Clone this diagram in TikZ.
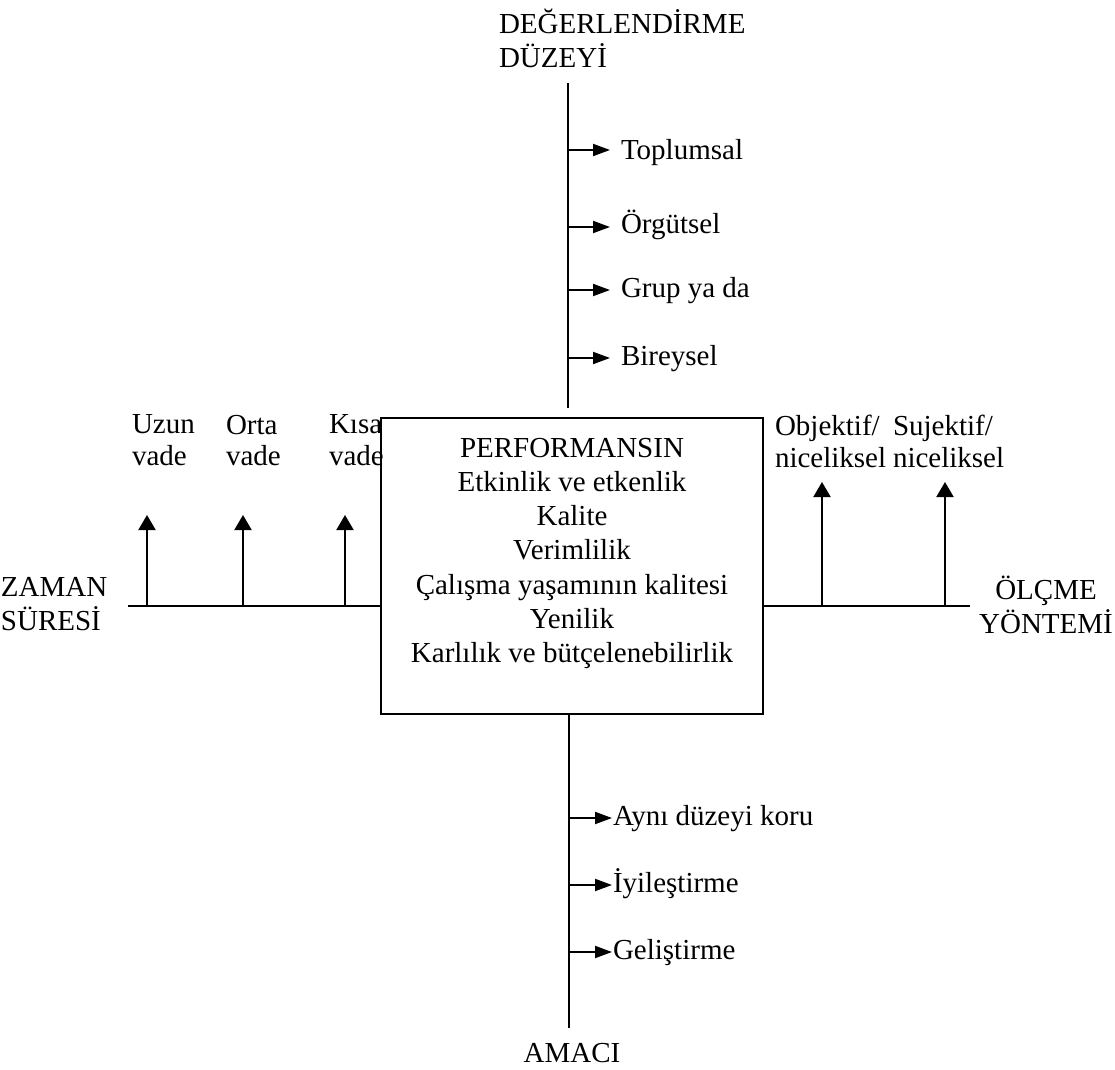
\documentclass[tikz,border=0pt]{standalone}
\usepackage{fontspec}
\setmainfont{Liberation Serif}
\usetikzlibrary{arrows.meta}
\usetikzlibrary{positioning}

\tikzset{
  harr/.style={-{Triangle[length=8.5pt,width=6pt]}},
  varr/.style={-{Triangle[length=7.5pt,width=8.5pt]}},
  itemlbl/.style={anchor=west,inner ysep=0pt,inner xsep=0pt,text height=7pt,text depth=0pt},
  headlbl/.style={anchor=north west,align=left,inner sep=0pt,font=\fontsize{14.5}{15.8}\selectfont},
  axislbl/.style={inner sep=0pt,font=\fontsize{14.5}{17}\selectfont},
  perfbox/.style={draw,minimum width=191pt,minimum height=148pt,inner sep=0pt}
}

\begin{document}
\begin{tikzpicture}[x=0.5pt,y=-0.5pt,line width=1pt,font=\fontsize{14.5}{17}\selectfont]
        \useasboundingbox (0,0) rectangle (1115,1070);
        %
        \node[perfbox] (perf) at (572,566) {};
        \node[anchor=north,align=center,inner sep=0pt,font=\fontsize{14.5}{17.1}\selectfont] (perftext) at (572,437)
        {PERFORMANSIN\\Etkinlik ve etkenlik\\Kalite\\Verimlilik\\Çalışma yaşamının kalitesi\\Yenilik\\Karlılık ve bütçelenebilirlik};
        %
        % degerlendirme duzeyi
        \node[axislbl,anchor=north west,align=left] (deger) at (498,8) {DEĞERLENDİRME\\DÜZEYİ};
        \coordinate (dtop) at (568,83);
        \coordinate (dbot) at (568,408);
        \draw (dtop) -- (dbot);
        \node[itemlbl,inner xsep=5pt,text height=10pt] (toplumsal) at (610,150) {Toplumsal};
        \node[itemlbl,inner xsep=5pt] (orgutsel) at (610,227) {Örgütsel};
        \node[itemlbl,inner xsep=5pt] (grup) at (610,290) {Grup ya da};
        \node[itemlbl,inner xsep=5pt] (bireysel) at (610,358) {Bireysel};
        \draw[harr] (toplumsal.west -| dtop) -- (toplumsal.west);
        \draw[harr] (orgutsel.west -| dtop) -- (orgutsel.west);
        \draw[harr] (grup.west -| dtop) -- (grup.west);
        \draw[harr] (bireysel.west -| dtop) -- (bireysel.west);
        %
        % amaci
        \coordinate (abot) at (569,1028);
        \draw (abot |- perf.south) -- (abot);
        \node[axislbl,anchor=base] (amaci) at (572,1062) {AMACI};
        \node[itemlbl] (ayni) at (612,818) {Aynı düzeyi koru};
        \node[itemlbl] (iyi) at (612,885) {İyileştirme};
        \node[itemlbl] (gelis) at (612,952) {Geliştirme};
        \draw[harr] (ayni.west -| abot) -- (ayni.west);
        \draw[harr] (iyi.west -| abot) -- (iyi.west);
        \draw[harr] (gelis.west -| abot) -- (gelis.west);
        %
        % zaman suresi
        \node[axislbl,anchor=north west,align=left] (zaman) at (0,576) {ZAMAN\\SÜRESİ};
        \coordinate (zstart) at (128,606);
        \draw (zstart) -- (zstart -| perf.west);
        \node[headlbl] (uzun) at (131,414) {Uzun\\vade};
        \node[headlbl] (orta) at (225,414) {Orta\\vade};
        \node[headlbl] (kisa) at (328,414) {Kısa\\vade};
        \coordinate (uzunbase) at (147,606);
        \coordinate (uzuntip) at (147,515);
        \coordinate (ortabase) at (243,606);
        \coordinate (ortatip) at (243,515);
        \coordinate (kisabase) at (345,606);
        \coordinate (kisatip) at (345,515);
        \draw[varr] (uzunbase) -- (uzuntip);
        \draw[varr] (ortabase) -- (ortatip);
        \draw[varr] (kisabase) -- (kisatip);
        %
        % olcme yontemi
        \node[axislbl,anchor=north,align=center] (olcme) at (1046,575) {ÖLÇME\\YÖNTEMİ};
        \coordinate (oend) at (970,606);
        \draw (oend -| perf.east) -- (oend);
        \node[headlbl] (objektif) at (774,414) {Objektif/\\niceliksel};
        \node[headlbl] (sujektif) at (892,414) {Sujektif/\\niceliksel};
        \coordinate (objbase) at (822,606);
        \coordinate (objtip) at (822,482);
        \coordinate (sujbase) at (945,606);
        \coordinate (sujtip) at (945,482);
        \draw[varr] (objbase) -- (objtip);
        \draw[varr] (sujbase) -- (sujtip);
      \end{tikzpicture}
\end{document}
